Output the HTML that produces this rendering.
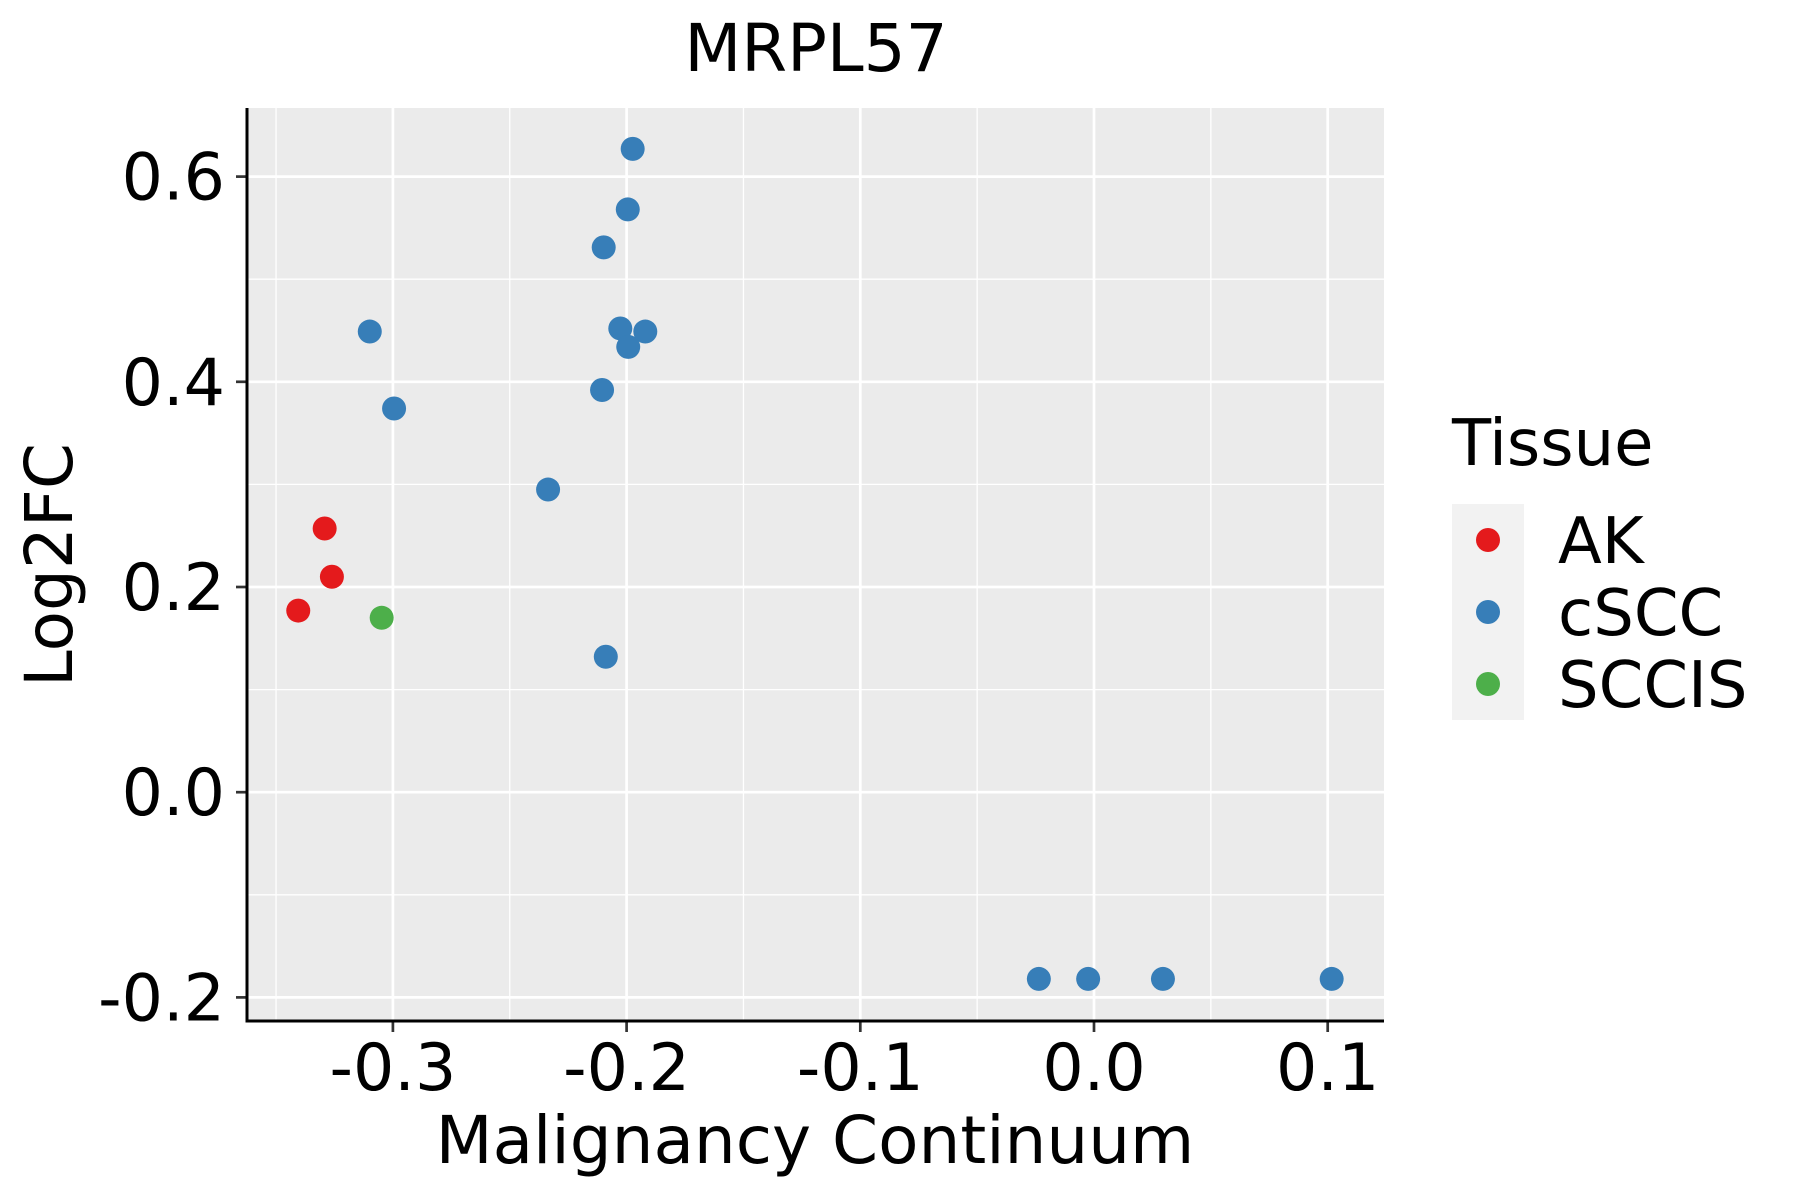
<!DOCTYPE html>
<html><head><meta charset="utf-8"><style>
html,body{margin:0;padding:0;background:#fff;}
svg{display:block;font-family:"DejaVu Sans","Liberation Sans",sans-serif;}
</style></head><body>
<svg id="chart" width="1800" height="1200" viewBox="0 0 1800 1200" xmlns="http://www.w3.org/2000/svg">
<rect x="247" y="108" width="1137" height="913" fill="#ebebeb"/>
<g id="grid"></g>
<g id="points"></g>
<g id="axes"></g>
<text x="816" y="71" font-size="66" text-anchor="middle">MRPL57</text>
<text x="815" y="1163" font-size="66" text-anchor="middle">Malignancy Continuum</text>
<text transform="translate(72,565) rotate(-90)" font-size="66" text-anchor="middle">Log2FC</text>
<g>
<text x="1452" y="465" font-size="64">Tissue</text>
<rect x="1452" y="504" width="72" height="216" fill="#f2f2f2"/>
<g><circle cx="1488" cy="540" r="12" fill="#e41a1c"/><text x="1558" y="563" font-size="64">AK</text></g>
<g><circle cx="1488" cy="612" r="12" fill="#377eb8"/><text x="1558" y="635" font-size="64">cSCC</text></g>
<g><circle cx="1488" cy="684" r="12" fill="#4daf4a"/><text x="1558" y="707" font-size="64">SCCIS</text></g>
</g>
</svg>
<script>
const xTicks = [-0.3, -0.2, -0.1, 0.0, 0.1];
const xTickLabels = ["-0.3", "-0.2", "-0.1", "0.0", "0.1"];
const xMinor = [-0.35, -0.25, -0.15, -0.05, 0.05];
const yTicks = [-0.2, 0.0, 0.2, 0.4, 0.6];
const yTickLabels = ["-0.2", "0.0", "0.2", "0.4", "0.6"];
const yMinor = [-0.1, 0.1, 0.3, 0.5];
const tissue = ["cSCC","cSCC","cSCC","cSCC","cSCC","cSCC","cSCC","cSCC","cSCC","cSCC","AK","AK","AK","SCCIS","cSCC","cSCC","cSCC","cSCC","cSCC"];
const xValues = [-0.1974,-0.1995,-0.2098,-0.3099,-0.2027,-0.1920,-0.1993,-0.2105,-0.2995,-0.2336,-0.3292,-0.3261,-0.3405,-0.3048,-0.2089,-0.0236,-0.0025,0.0295,0.1017];
const yValues = [0.627,0.568,0.531,0.449,0.452,0.449,0.434,0.392,0.374,0.295,0.257,0.210,0.177,0.170,0.132,-0.182,-0.182,-0.182,-0.182];
const colors = {AK:"#e41a1c", cSCC:"#377eb8", SCCIS:"#4daf4a"};

const PL=247, PR=1384, PT=108, PB=1021;
function xs(v){ return 1094 + v*2337; }
function ys(v){ return 792.2 - v*1026; }
const NS="http://www.w3.org/2000/svg";
function mk(tag, attrs, parent){ const e=document.createElementNS(NS,tag); for(const k in attrs) e.setAttribute(k,attrs[k]); parent.appendChild(e); return e; }
const grid=document.getElementById('grid'), pts=document.getElementById('points'), axes=document.getElementById('axes');
xMinor.forEach(v=>{ const l=mk('line',{x1:xs(v),x2:xs(v),y1:PT,y2:PB,stroke:'#fff','stroke-width':1.3},grid);

 });
yMinor.forEach(v=>{ const l=mk('line',{x1:PL,x2:PR,y1:ys(v),y2:ys(v),stroke:'#fff','stroke-width':1.3},grid);

 });
xTicks.forEach((v,i)=>{ const l=mk('line',{x1:xs(v),x2:xs(v),y1:PT,y2:PB,stroke:'#fff','stroke-width':2.7},grid);


const t=mk('line',{x1:xs(v),x2:xs(v),y1:PB,y2:PB+11,stroke:'#333','stroke-width':2.7},axes);


const tx=mk('text',{x:xs(v),y:1090,'font-size':65,'text-anchor':'middle'},axes); tx.textContent=xTickLabels[i];

 });
yTicks.forEach((v,i)=>{ const l=mk('line',{x1:PL,x2:PR,y1:ys(v),y2:ys(v),stroke:'#fff','stroke-width':2.7},grid);


const t=mk('line',{x1:PL-11,x2:PL,y1:ys(v),y2:ys(v),stroke:'#333','stroke-width':2.7},axes);


const tx=mk('text',{x:225,y:ys(v)+23,'font-size':65,'text-anchor':'end'},axes); tx.textContent=yTickLabels[i];

 });
const ax=mk('line',{x1:PL,x2:PL,y1:PT,y2:PB+1.5,stroke:'#000','stroke-width':3},axes);


const bx=mk('line',{x1:PL-1.5,x2:PR,y1:PB,y2:PB,stroke:'#000','stroke-width':3},axes);


xValues.forEach((v,i)=>{ const c=mk('circle',{cx:xs(v),cy:ys(yValues[i]),r:12,fill:colors[tissue[i]]},pts);

 });
</script>
</body></html>
